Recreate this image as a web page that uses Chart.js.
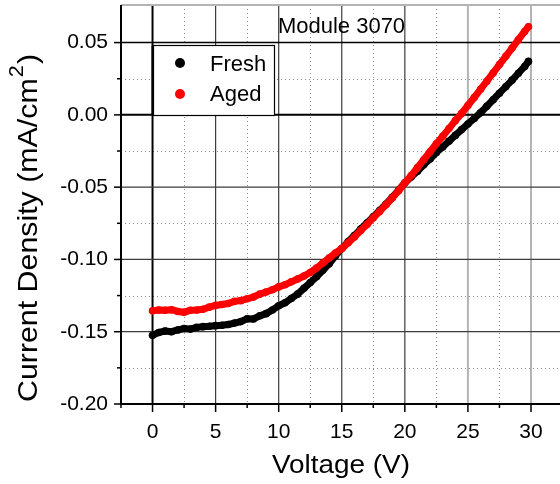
<!DOCTYPE html>
<html><head><meta charset="utf-8">
<script src="https://cdn.jsdelivr.net/npm/chart.js@4.4.1/dist/chart.umd.min.js"></script>
<style>html,body{margin:0;padding:0;background:#fff;}canvas{display:block;}</style>
</head><body>
<canvas id="c" width="560" height="484"></canvas>
<script>
const chartTitle = 'Module 3070';
const xAxisTitle = 'Voltage (V)';
const yAxisTitleMain = 'Current Density (mA/cm';
const yAxisTitleSup = '2';
const yAxisTitleEnd = ')';
const seriesNames = ['Fresh', 'Aged'];

const voltage = [0,0.5,1,1.5,2,2.5,3,3.5,4,4.5,5,5.5,6,6.5,7,7.5,8,8.5,9,9.5,
  10,10.5,11,11.5,12,12.5,13,13.5,14,14.5,15,15.5,16,16.5,17,17.5,18,18.5,19,19.5,
  20,20.5,21,21.5,22,22.5,23,23.5,24,24.5,25,25.5,26,26.5,27,27.5,28,28.5,29,29.5,29.8];

const fresh = [-0.1525,-0.1505,-0.1495,-0.1500,-0.1488,-0.1478,-0.1482,-0.1470,-0.1465,-0.1462,
  -0.1458,-0.1455,-0.1450,-0.1440,-0.1430,-0.1410,-0.1412,-0.1390,-0.1375,-0.1350,
  -0.1320,-0.1300,-0.1270,-0.1240,-0.1200,-0.1160,-0.1120,-0.1075,-0.1030,-0.0975,
  -0.0925,-0.0878,-0.0835,-0.0790,-0.0748,-0.0705,-0.0662,-0.0618,-0.0570,-0.0522,
  -0.0470,-0.0430,-0.0390,-0.0345,-0.0305,-0.0260,-0.0222,-0.0182,-0.0142,-0.0102,
  -0.0063,-0.0025,0.0015,0.0060,0.0105,0.0150,0.0195,0.0240,0.0288,0.0335,0.0370];

const aged = [-0.1355,-0.1350,-0.1352,-0.1348,-0.1360,-0.1365,-0.1352,-0.1350,-0.1345,-0.1330,
  -0.1318,-0.1312,-0.1305,-0.1290,-0.1285,-0.1272,-0.1260,-0.1240,-0.1225,-0.1210,
  -0.1190,-0.1175,-0.1155,-0.1135,-0.1115,-0.1090,-0.1060,-0.1025,-0.0990,-0.0955,
  -0.0925,-0.0885,-0.0845,-0.0800,-0.0758,-0.0712,-0.0668,-0.0622,-0.0575,-0.0525,
  -0.0470,-0.0420,-0.0365,-0.0310,-0.0255,-0.0200,-0.0148,-0.0095,-0.0040,0.0010,
  0.0065,0.0120,0.0177,0.0233,0.0290,0.0348,0.0405,0.0462,0.0520,0.0577,0.0610];

const xTicks = [0, 5, 10, 15, 20, 25, 30];
const yTicks = [-0.20, -0.15, -0.10, -0.05, 0.00, 0.05];
const xMinorTicks = [-2.5, 2.5, 7.5, 12.5, 17.5, 22.5, 27.5];
const yMinorTicks = [-0.175, -0.125, -0.075, -0.025, 0.025];

const fam = '"Liberation Sans", Arial, sans-serif';
const seriesColors = ['#000000', '#ff0000'];

function hLine(ctx, x1, x2, y) { ctx.beginPath(); ctx.moveTo(x1, y); ctx.lineTo(x2, y); ctx.stroke(); }
function vLine(ctx, x, y1, y2) { ctx.beginPath(); ctx.moveTo(x, y1); ctx.lineTo(x, y2); ctx.stroke(); }

const originFrame = {
  id: 'originFrame',
  beforeDatasetsDraw(chart) {
    const {ctx, chartArea: a, scales: {x, y}} = chart;
    ctx.save();
    ctx.lineWidth = 1; ctx.setLineDash([1, 3]); ctx.strokeStyle = '#8c8c8c';
    xMinorTicks.forEach(v => {
      const px = Math.round(x.getPixelForValue(v)) + 0.5;
      if (px > a.left + 2 && px < a.right) vLine(ctx, px, a.top, a.bottom);
    });
    yMinorTicks.forEach(v => {
      const py = Math.round(y.getPixelForValue(v)) + 0.5;
      hLine(ctx, a.left, a.right, py);
    });
    ctx.setLineDash([]);
    xTicks.forEach(v => {
      const px = x.getPixelForValue(v);
      if (v === 0) { ctx.strokeStyle = '#000'; ctx.lineWidth = 2; }
      else if (v >= 25) { ctx.strokeStyle = '#b4b4b4'; ctx.lineWidth = 2; }
      else { ctx.strokeStyle = '#3c3c3c'; ctx.lineWidth = 1.2; }
      vLine(ctx, px, a.top, a.bottom);
    });
    yTicks.forEach((v, i) => {
      if (i === 0) return;
      const py = y.getPixelForValue(v);
      if (v === 0) { ctx.strokeStyle = '#000'; ctx.lineWidth = 2; }
      else if (v > 0) { ctx.strokeStyle = '#000'; ctx.lineWidth = 1.5; }
      else { ctx.strokeStyle = '#3c3c3c'; ctx.lineWidth = 1.2; }
      hLine(ctx, a.left, a.right, py);
    });
    ctx.strokeStyle = '#b4b4b4'; ctx.lineWidth = 2;
    hLine(ctx, a.left, a.right, a.top);
    ctx.restore();
  },
  afterDatasetsDraw(chart) {
    const {ctx, chartArea: a, scales: {x, y}} = chart;
    ctx.save();
    ctx.strokeStyle = '#000'; ctx.lineWidth = 2;
    vLine(ctx, a.left, a.top, a.bottom + 1);
    hLine(ctx, a.left - 1, a.right, a.bottom);
    ctx.lineWidth = 1.5;
    yTicks.forEach(v => { const py = y.getPixelForValue(v); hLine(ctx, a.left - 7, a.left, py); });
    yMinorTicks.forEach(v => { const py = y.getPixelForValue(v); hLine(ctx, a.left - 4, a.left, py); });
    xTicks.forEach(v => { const px = x.getPixelForValue(v); vLine(ctx, px, a.bottom, a.bottom + 8); });
    xMinorTicks.forEach(v => { const px = x.getPixelForValue(v); vLine(ctx, px, a.bottom, a.bottom + 4); });

    // legend
    const x0 = x.getPixelForValue(0), y0 = y.getPixelForValue(0);
    const bx = Math.round(x0) + 0.5, by = 45.5, bw = 121, bh = Math.round(y0) - 45;
    ctx.fillStyle = '#fff';
    ctx.fillRect(bx, by, bw, bh);
    ctx.strokeStyle = '#000'; ctx.lineWidth = 1.2;
    ctx.strokeRect(bx, by, bw, bh);
    ctx.lineWidth = 2; vLine(ctx, x0, by, y0);
    const rows = [[63, 71], [94, 101]];
    chart.data.datasets.slice().sort((p, q) => p.legendIndex - q.legendIndex).forEach((ds, i) => {
      ctx.fillStyle = ds.borderColor;
      ctx.beginPath(); ctx.arc(180, rows[i][0], 5, 0, Math.PI * 2); ctx.fill();
      ctx.fillStyle = '#000';
      ctx.font = `22px ${fam}`;
      ctx.textAlign = 'left'; ctx.textBaseline = 'alphabetic';
      ctx.fillText(ds.label, 210, rows[i][1]);
    });

    // chart title
    ctx.fillStyle = '#000';
    ctx.font = `22px ${fam}`;
    ctx.textAlign = 'center'; ctx.textBaseline = 'alphabetic';
    ctx.fillText(chartTitle, 341.5, 32.5);

    // x axis title
    ctx.save();
    ctx.font = `26px ${fam}`;
    const xw = ctx.measureText(xAxisTitle).width;
    ctx.translate(341, 473);
    ctx.scale(138 / xw, 1);
    ctx.textAlign = 'center';
    ctx.fillText(xAxisTitle, 0, 0);
    ctx.restore();

    // y axis title
    ctx.save();
    ctx.translate(37, 402);
    ctx.rotate(-Math.PI / 2);
    ctx.font = `28px ${fam}`;
    const w1 = ctx.measureText(yAxisTitleMain).width;
    const w3 = ctx.measureText(yAxisTitleEnd).width;
    ctx.font = `20px ${fam}`;
    const w2 = ctx.measureText(yAxisTitleSup).width;
    const total = w1 + w2 + w3 + 2;
    ctx.scale(348 / total, 1);
    ctx.textAlign = 'left';
    ctx.font = `28px ${fam}`;
    ctx.fillText(yAxisTitleMain, 0, 0);
    ctx.font = `20px ${fam}`;
    ctx.fillText(yAxisTitleSup, w1 + 1, -14);
    ctx.font = `28px ${fam}`;
    ctx.fillText(yAxisTitleEnd, w1 + w2 + 2, 0);
    ctx.restore();

    ctx.restore();
  }
};

const toPoints = arr => voltage.map((v, i) => ({x: v, y: arr[i]}));

new Chart(document.getElementById('c'), {
  type: 'scatter',
  data: {
    datasets: [
      {label: seriesNames[0], legendIndex: 0, data: toPoints(fresh), order: 2,
       borderColor: seriesColors[0], backgroundColor: seriesColors[0]},
      {label: seriesNames[1], legendIndex: 1, data: toPoints(aged), order: 1,
       borderColor: seriesColors[1], backgroundColor: seriesColors[1]}
    ].map(d => Object.assign(d, {showLine: true, borderWidth: 7, pointRadius: 3.8,
       pointBorderWidth: 0, borderJoinStyle: 'round', borderCapStyle: 'round', tension: 0}))
  },
  options: {
    responsive: false, animation: false, devicePixelRatio: 1,
    layout: {autoPadding: false, padding: {top: 5, right: 0, left: 0, bottom: 0}},
    plugins: {legend: {display: false}, tooltip: {enabled: false}, title: {display: false}},
    scales: {
      x: {
        type: 'linear', position: 'bottom', min: -2.5, max: 32.3,
        afterBuildTicks: s => { s.ticks = xTicks.map(v => ({value: v})); },
        afterFit: s => { s.height = 80; s.paddingLeft = 0; s.paddingRight = 0; },
        grid: {display: false, drawTicks: false}, border: {display: false},
        ticks: {padding: 16, color: '#000', font: {family: fam, size: 21}, maxRotation: 0,
                callback: v => String(v)}
      },
      y: {
        type: 'linear', position: 'left', min: -0.2, max: 0.076,
        afterBuildTicks: s => { s.ticks = yTicks.map(v => ({value: v})); },
        afterFit: s => { s.width = 121; s.paddingTop = 0; s.paddingBottom = 0; },
        grid: {display: false, drawTicks: false}, border: {display: false},
        ticks: {padding: 13, color: '#000', font: {family: fam, size: 21},
                callback: v => Number(v).toFixed(2)}
      }
    }
  },
  plugins: [originFrame]
});
</script>
</body></html>
